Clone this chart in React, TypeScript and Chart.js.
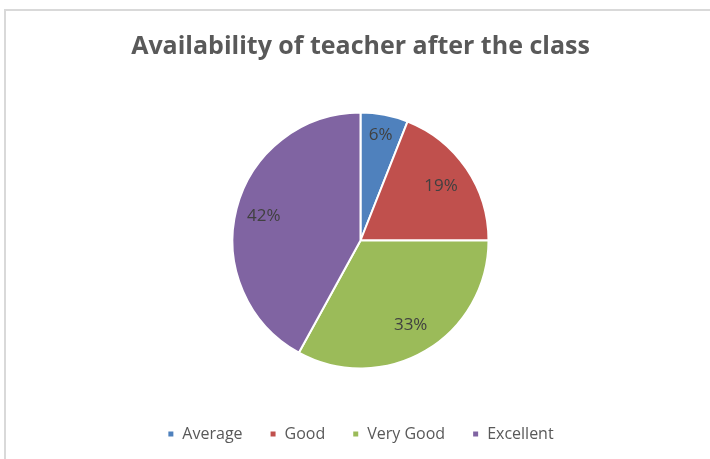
import React, { useEffect, useRef } from "react";
import { Chart, registerables } from "chart.js";

Chart.register(...registerables);

const TITLE = "Availability of teacher after the class";
const categories = ["Average", "Good", "Very Good", "Excellent"];
const percentages = [6, 19, 33, 42];
const sliceColors = ["#4F81BD", "#C0504D", "#9BBB59", "#8064A2"];
const labelRadiusFactors = [0.84, 0.76, 0.77, 0.78];

const FONT = "'Open Sans', 'Noto Sans', sans-serif";

const dataLabelPlugin = {
  id: "sliceLabels",
  afterDatasetsDraw(chart: any) {
    const ctx = chart.ctx;
    const meta = chart.getDatasetMeta(0);
    ctx.save();
    ctx.font = `17px ${FONT}`;
    ctx.fillStyle = "#404040";
    ctx.textAlign = "center";
    ctx.textBaseline = "middle";
    meta.data.forEach((arc: any, i: number) => {
      const p = arc.getProps(["x", "y", "startAngle", "endAngle", "outerRadius"], true);
      const mid = (p.startAngle + p.endAngle) / 2;
      const r = p.outerRadius * labelRadiusFactors[i];
      ctx.fillText(`${percentages[i]}%`, p.x + Math.cos(mid) * r, p.y + Math.sin(mid) * r);
    });
    ctx.restore();
  },
};

export default function App() {
  const canvasRef = useRef<HTMLCanvasElement | null>(null);

  useEffect(() => {
    if (!canvasRef.current) return;
    const chart = new Chart(canvasRef.current, {
      type: "pie",
      data: {
        labels: categories,
        datasets: [
          {
            data: percentages,
            backgroundColor: sliceColors,
            borderColor: "#ffffff",
            borderWidth: 2,
            radius: 128,
          },
        ],
      },
      options: {
        animation: false,
        responsive: false,
        maintainAspectRatio: false,
        layout: { padding: { top: 0, bottom: 7, left: 11, right: 0 } },
        plugins: {
          title: {
            display: true,
            text: TITLE,
            color: "#595959",
            font: { family: FONT, size: 25, weight: "bold" },
            padding: { top: 32, bottom: 20 },
          },
          legend: {
            display: true,
            position: "bottom",
            labels: {
              color: "#595959",
              font: { family: FONT, size: 16 },
              boxWidth: 7,
              boxHeight: 7,
              padding: 27,
            },
          },
          tooltip: { enabled: false },
        },
      },
      plugins: [dataLabelPlugin],
    });
    return () => chart.destroy();
  }, []);

  return (
    <div style={{ position: "fixed", left: 0, top: 0, width: 710, height: 459, background: "#fff" }}>
      <canvas ref={canvasRef} width={710} height={459} style={{ position: "absolute", left: 0, top: 0, width: 710, height: 459 }} />
      <div
        style={{
          position: "absolute",
          left: 4,
          top: 9,
          right: 0,
          bottom: 0,
          borderTop: "2px solid #d9d9d9",
          borderLeft: "2px solid #d9d9d9",
          pointerEvents: "none",
        }}
      />
    </div>
  );
}
